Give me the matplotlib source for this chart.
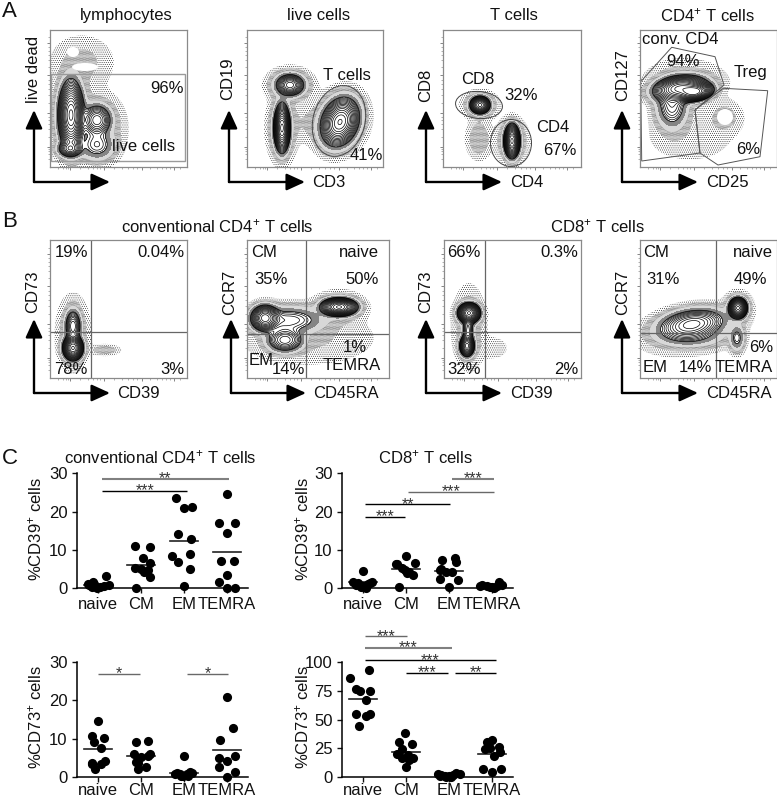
#! plot.py
# flow cytometry gating panels (A, B) and dot plots (C)

from matplotlib import pyplot as plt
from matplotlib.patches import Ellipse, Polygon, Rectangle, FancyArrowPatch
import numpy as np

plt.rcParams['font.family'] = ['Liberation Sans', 'DejaVu Sans']
plt.rcParams['mathtext.default'] = 'regular'
plt.rcParams['hatch.linewidth'] = 0.3
plt.rcParams['hatch.color'] = 'black'

W, H = 777, 797

# flow panels: populations are (x, y, sx, sy, angle, weight) in channel units
a1_pops = [(21, 52, 5.5, 15, 0, 1.0), (20, 18, 6, 4, 0, 0.25), (47, 47, 7, 7.5, 0, 0.3),
	(47, 22, 9, 8, 0, 0.1), (32, 105, 18, 15, 0, 0.007), (22, 50, 10, 22, 0, 0.03), (50, 40, 14, 18, 0, 0.012)]
a2_pops = [(43, 82, 6.5, 5, 0, 0.4), (35, 39, 3.5, 10.5, 0, 1.0), (93, 45, 8, 11, -20, 0.8),
	(62, 45, 12, 12, 0, 0.005), (43, 82, 11, 8, 0, 0.04), (35, 39, 7, 16, 0, 0.04), (93, 45, 13, 16, -20, 0.03)]
a3_pops = [(37, 62, 4.5, 4, 0, 0.7), (36, 28, 7, 11, 0, 0.012), (69, 26, 3.5, 7.5, 0, 1.0),
	(37, 62, 9, 7, 0, 0.025), (69, 26, 8, 11, 0, 0.025)]
a4_pops = [(40, 79, 12, 5.5, 8, 0.8), (55, 75, 8, 4, 8, 1.0), (32, 62, 8, 12, 0, 0.15),
	(85, 50, 10, 9, 0, 0.008), (50, 30, 28, 16, 0, 0.004), (45, 85, 24, 13, 0, 0.008)]
b1_pops = [(23, 30, 4.5, 5.5, 0, 1.0), (23, 52, 4, 8, 0, 0.25), (55, 28, 8, 3, 0, 0.012), (23, 45, 9, 20, 0, 0.012)]
b2_pops = [(18, 60, 6.5, 6, 0, 0.6), (38, 38, 9, 6, 0, 0.25), (92, 71, 8, 4, 0, 1.0),
	(42, 58, 18, 7, 0, 0.12), (60, 40, 40, 16, 0, 0.006), (92, 71, 13, 8, 0, 0.02)]
b3_pops = [(25, 65, 5, 4.5, 0, 1.0), (23, 32, 3.5, 5, 0, 0.6), (24, 48, 3, 7, 0, 0.15),
	(50, 30, 9, 7, 0, 0.004), (25, 50, 9, 22, 0, 0.012)]
b4_pops = [(52, 54, 16, 7, 8, 0.35), (98, 70, 4, 4.5, 0, 1.0), (97, 40, 4, 7, 0, 0.08),
	(50, 42, 18, 6, 0, 0.06), (50, 45, 32, 14, 8, 0.006), (98, 70, 7, 8, 0, 0.03)]

# white cores inside the panels (x, y, width, height)
a1_holes = [(23, 115, 12, 10), (35, 100, 26, 8), (30, 136, 24, 3)]
a4_holes = [(85, 50, 16, 16)]

# gates
a1_gate = (1, 6, 134, 87)
a2_gate = [(92, 46, 52, 72, -15)]
a3_gate = [(36, 62, 47, 27, -5), (68, 24, 41, 47, 0)]
a4_conv = [(0.7, 85.3), (31.7, 119.7), (75, 110.3), (84, 82), (55, 57), (60, 14), (1.7, 6)]
a4_treg = [(83.3, 78.7), (127.7, 76.3), (120, 10.3), (78, 2), (60, 14), (55, 57)]

# quadrant lines (x, y)
b1_quad = (41, 46)
b2_quad = (59, 44)
b3_quad = (41, 46)
b4_quad = (76, 45)

# log scale ticks on the flow frames
major_ticks = [20, 54, 92, 124]
minor_ticks = [8, 13, 16, 18, 30, 38, 43, 47, 50, 64, 72, 78, 83, 87, 100, 107, 112, 116, 120, 130]

# dot plots
categories = ['naive', 'CM', 'EM', 'TEMRA']

c1_x = [[0.18, 0.25, 0.05, -0.1, -0.22, -0.02, -0.14, 0.13, -0.24, -0.12],
	[-0.15, 0.22, 0.04, 0.22, -0.13, 0.0, 0.08, 0.16, 0.2, -0.12],
	[-0.19, 0.0, 0.19, -0.14, 0.16, -0.29, 0.15, -0.14, 0.15, 0.0],
	[0.0, -0.19, 0.19, 0.0, -0.15, 0.16, 0.0, -0.19, 0.0, 0.19]]
c1_y = [[3.2, 0.9, 0.35, 1.05, 0.8, 0.1, 0.35, 0.6, 1.0, 1.5],
	[10.9, 10.6, 7.8, 6.5, 5.2, 4.9, 4.1, 4.7, 2.9, 0.1],
	[23.5, 21.0, 21.3, 14.1, 12.7, 8.4, 8.9, 6.9, 5.0, 0.5],
	[24.5, 17.0, 17.0, 14.4, 7.0, 7.1, 3.5, 1.7, 0.1, 0.1]]
c1_mean = [0.8, 5.9, 12.4, 9.3]
c1_bars = [(0.09, 2.08, 25.4, '***', 'k'), (0.09, 3.05, 28.6, '**', 'gray')]

c2_x = [[0.0, -0.23, -0.12, 0.0, 0.12, 0.2, -0.05, 0.06, -0.16, 0.16],
	[0.0, -0.2, 0.2, -0.1, -0.02, 0.08, 0.02, 0.16, -0.16, -0.24],
	[-0.16, 0.13, 0.17, -0.18, -0.06, 0.07, -0.22, 0.2, 0.0, -0.2],
	[0.16, -0.23, -0.12, 0.0, 0.12, 0.23, -0.27, -0.05, 0.05, 0.18]]
c2_y = [[4.5, 1.5, 1.2, 0.5, 1.0, 1.6, 0.35, 0.1, 0.8, 1.4],
	[8.4, 6.2, 6.5, 5.3, 4.7, 4.3, 3.8, 3.4, 0.35, 6.3],
	[7.2, 7.8, 6.9, 5.1, 4.3, 4.1, 2.3, 2.0, 0.25, 4.7],
	[1.7, 0.7, 0.5, 0.25, 0.4, 0.8, 0.4, 0.2, 0.1, 1.0]]
c2_mean = [1.5, 5.0, 4.4, 0.5]
c2_bars = [(0.04, 0.98, 18.6, '***', 'k'), (0.04, 2.03, 21.9, '**', 'k'),
	(1.05, 3.05, 25.2, '***', 'dimgray'), (2.08, 3.05, 28.6, '***', 'gray')]

c3_x = [[0.0, -0.15, -0.09, 0.15, 0.08, -0.15, 0.16, 0.08, -0.08, -0.15],
	[-0.12, 0.17, -0.16, 0.0, 0.21, 0.16, -0.12, 0.12, -0.06, -0.08],
	[0.0, -0.17, 0.13, -0.1, -0.02, 0.06, -0.21, 0.19, -0.06, 0.09],
	[0.0, 0.15, -0.16, -0.19, 0.19, 0.0, -0.19, 0.19, 0.0]]
c3_y = [[14.5, 10.8, 9.2, 10.1, 7.6, 3.7, 4.2, 3.4, 1.9, 3.3],
	[9.1, 9.4, 5.9, 5.2, 5.9, 5.4, 3.9, 2.6, 1.9, 3.5],
	[5.3, 1.0, 1.3, 0.6, 0.3, 0.7, 0.7, 1.0, 0.2, 0.3],
	[21.0, 12.9, 9.7, 4.9, 5.4, 4.0, 2.5, 1.3, 0.0]]
c3_mean = [7.3, 5.3, 1.1, 7.0]
c3_bars = [(0.0, 0.97, 26.9, '*', 'dimgray'), (2.06, 3.03, 26.9, '*', 'dimgray')]

c4_x = [[0.14, -0.3, -0.16, -0.08, 0.16, 0.08, -0.16, 0.16, 0.08, -0.09],
	[-0.02, -0.16, 0.14, -0.09, -0.2, -0.09, 0.04, 0.17, 0.08, -0.01],
	[-0.26, -0.18, -0.1, 0.0, 0.09, 0.17, 0.25, -0.06, 0.05, -0.22],
	[0.0, -0.12, -0.17, -0.04, 0.16, 0.18, 0.05, -0.2, 0.2, 0.0, -0.1]]
c4_y = [[93, 86, 76.7, 75, 75.2, 66.8, 54.5, 54.8, 53, 44],
	[38, 30.6, 28.9, 24.5, 19.5, 16.6, 19, 16.6, 14.6, 8.5],
	[2, 1.5, 0.6, 0.6, 1.5, 3, 2, 0, 0, 0.9],
	[32, 30, 24, 25, 25.7, 21.9, 18, 6.7, 6.7, 4.4, 28]]
c4_mean = [68, 22, 1.5, 19.5]
c4_bars = [(0.04, 1.02, 122.7, '***', 'dimgray'), (0.04, 2.07, 112.5, '***', 'gray'),
	(0.04, 3.1, 101.7, '***', 'k'), (1.01, 1.97, 90.7, '***', 'k'), (2.14, 3.1, 90.7, '**', 'k')]

fig = plt.figure(figsize=(W / 100, H / 100), dpi=100)


def px_axes(left, top, right, bottom):
	# axes placed by its pixel box in the figure
	return fig.add_axes([left / W, 1 - bottom / H, (right - left) / W, (bottom - top) / H])


# overlay for the text and the arrows, in pixels
over = fig.add_axes([0, 0, 1, 1], zorder=10)
over.set_xlim(0, W)
over.set_ylim(H, 0)
over.axis('off')
over.patch.set_alpha(0)


def label(x, y, s, ha='center', size=12, rot=0):
	over.text(x, y, s, ha=ha, va='center', fontsize=size, rotation=rot, color='#111111')


def arrows(x0, y0, xtip, ytip):
	for end in [(xtip, y0), (x0, ytip)]:
		over.add_patch(FancyArrowPatch((x0, y0), end, arrowstyle='-|>,head_length=0.7,head_width=0.32',
			mutation_scale=16, lw=1.7, color='black', shrinkA=0, shrinkB=0))


def flow_panel(box, pops, holes=()):
	left, top, right, bottom = box
	w, h = right - left, bottom - top
	ax = px_axes(left, top, right, bottom)
	ax.set_xlim(0, w)
	ax.set_ylim(0, h)

	# density surface of the populations
	X, Y = np.meshgrid(np.linspace(0, w, 400), np.linspace(0, h, 400))
	Z = np.zeros_like(X)
	for cx, cy, sx, sy, ang, wgt in pops:
		t = np.radians(ang)
		u = (X - cx) * np.cos(t) + (Y - cy) * np.sin(t)
		v = -(X - cx) * np.sin(t) + (Y - cy) * np.cos(t)
		Z += wgt * np.exp(-0.5 * (u / sx) ** 2 - 0.5 * (v / sy) ** 2)

	# speckle halo outside the contours
	ax.contourf(X, Y, Z, levels=[0.0015, 0.005, 0.015, 0.035, 0.06], colors=['white', '#f5f5f5', '#d8d8d8', '#858585'])
	ax.contourf(X, Y, Z, levels=[0.0015, 0.005, 0.015], colors='none', hatches=['........', '..............'])
	ax.contour(X, Y, Z, levels=np.geomspace(0.06, 0.97, 16), colors='black', linewidths=0.5)

	for hx, hy, hw, hh in holes:
		ax.add_patch(Ellipse((hx, hy), hw, hh, fc='white', ec='none'))

	# frame and log ticks
	for side in ax.spines.values():
		side.set_color('#8a8a8a')
		side.set_linewidth(0.9)
	ax.set_xticks(major_ticks)
	ax.set_yticks(major_ticks)
	ax.set_xticks(minor_ticks, minor=True)
	ax.set_yticks(minor_ticks, minor=True)
	ax.tick_params(which='major', length=2.5, width=0.5, color='#555555', labelleft=False, labelbottom=False)
	ax.tick_params(which='minor', length=1.2, width=0.4, color='#777777')
	return ax


def quadrants(ax, quad):
	ax.axvline(quad[0], color='#666666', lw=0.9)
	ax.axhline(quad[1], color='#666666', lw=0.9)


def dot_panel(box, xs, ys, means, bars, ymax, yticks, ylab, ylab_x, pad=3):
	left, top, right, bottom = box
	ax = px_axes(left, top, right, bottom)
	for i in range(len(categories)):
		ax.plot(i + np.array(xs[i]), ys[i], 'o', color='black', ms=6.6, mew=0, clip_on=False, zorder=3)
		ax.plot([i - 0.33, i + 0.33], [means[i], means[i]], color='#222222', lw=1.2, zorder=2)
	for x0, x1, y, stars, col in bars:
		ax.plot([x0, x1], [y, y], color=col, lw=1.5 if col == 'gray' else 1.0, clip_on=False, solid_capstyle='butt')
		ax.text((x0 + x1) / 2, y, stars, ha='center', va='center', fontsize=11.5, color='#333333', clip_on=False)
	ax.set_xlim(-0.49, 3.49)
	ax.set_ylim(0, ymax)
	ax.set_xticks(range(len(categories)))
	ax.set_xticklabels(categories)
	ax.set_yticks(yticks)
	ax.spines['top'].set_visible(False)
	ax.spines['right'].set_visible(False)
	ax.spines['left'].set_linewidth(1.1)
	ax.spines['bottom'].set_linewidth(1.1)
	ax.tick_params(length=3.8, width=1.0, labelsize=12, colors='#111111')
	ax.tick_params(axis='x', pad=pad)
	ax.tick_params(axis='y', pad=3)
	label(ylab_x, (top + bottom) / 2 - 2, ylab, size=12, rot=90)
	return ax


# panel A
ax = flow_panel((50, 30, 187, 167), a1_pops, a1_holes)
x0, y0, gw, gh = a1_gate
ax.add_patch(Rectangle((x0, y0), gw, gh, fc='none', ec='#9a9a9a', lw=1.0))
label(126, 15, 'lymphocytes')
label(184, 88, '96%', ha='right')
label(144, 146, 'live cells')
label(33, 69, 'live dead', rot=90)
arrows(34, 182, 110, 110)

ax = flow_panel((247, 30, 383, 167), a2_pops)
for cx, cy, ew, eh, ang in a2_gate:
	ax.add_patch(Ellipse((cx, cy), ew, eh, angle=ang, fc='none', ec='#444444', lw=0.7))
label(319, 15, 'live cells')
label(347, 75, 'T cells')
label(383, 155, '41%', ha='right')
label(312, 182, 'CD3', ha='left')
label(228, 79, 'CD19', rot=90)
arrows(229, 182, 305, 110)

ax = flow_panel((443, 30, 581, 167), a3_pops)
for cx, cy, ew, eh, ang in a3_gate:
	ax.add_patch(Ellipse((cx, cy), ew, eh, angle=ang, fc='none', ec='#444444', lw=0.7))
label(514, 15, 'T cells')
label(478, 79, 'CD8')
label(521, 95, '32%')
label(553, 127, 'CD4')
label(560, 150, '67%')
label(510, 182, 'CD4', ha='left')
label(426, 85, 'CD8', rot=90)
arrows(426, 182, 502, 110)

ax = flow_panel((640, 30, 777, 167), a4_pops, a4_holes)
ax.add_patch(Polygon(a4_conv, fc='none', ec='#555555', lw=0.7))
ax.add_patch(Polygon(a4_treg, fc='none', ec='#555555', lw=0.7))
label(707, 15, 'CD4$^{+}$ T cells')
label(642, 39, 'conv. CD4', ha='left')
label(683, 61, '94%')
label(750, 72, 'Treg')
label(748, 149, '6%')
label(706, 182, 'CD25', ha='left')
label(623, 75, 'CD127', rot=90)
arrows(622, 182, 698, 110)

# panel B
label(217, 226, 'conventional CD4$^{+}$ T cells')
label(597, 226, 'CD8$^{+}$ T cells')

ax = flow_panel((50, 240, 187, 378), b1_pops)
quadrants(ax, b1_quad)
label(71, 252, '19%')
label(184, 252, '0.04%', ha='right')
label(71, 369, '78%')
label(184, 369, '3%', ha='right')
label(117, 393, 'CD39', ha='left')
label(33, 292, 'CD73', rot=90)
arrows(34, 393, 110, 319)

ax = flow_panel((247, 240, 389, 378), b2_pops)
quadrants(ax, b2_quad)
label(251, 252, 'CM', ha='left')
label(379, 252, 'naive', ha='right')
label(271, 279, '35%')
label(379, 279, '50%', ha='right')
label(355, 347, '1%')
label(381, 365, 'TEMRA', ha='right')
label(249, 360, 'EM', ha='left')
label(288, 369, '14%')
label(313, 393, 'CD45RA', ha='left')
label(230, 292, 'CCR7', rot=90)
arrows(231, 393, 306, 319)

ax = flow_panel((444, 240, 581, 378), b3_pops)
quadrants(ax, b3_quad)
label(464, 252, '66%')
label(578, 252, '0.3%', ha='right')
label(464, 369, '32%')
label(578, 369, '2%', ha='right')
label(510, 393, 'CD39', ha='left')
label(426, 292, 'CD73', rot=90)
arrows(426, 393, 502, 319)

ax = flow_panel((640, 240, 777, 378), b4_pops)
quadrants(ax, b4_quad)
label(643, 252, 'CM', ha='left')
label(773, 252, 'naive', ha='right')
label(663, 279, '31%')
label(767, 279, '49%', ha='right')
label(773, 347, '6%', ha='right')
label(643, 367, 'EM', ha='left')
label(695, 367, '14%')
label(773, 367, 'TEMRA', ha='right')
label(706, 393, 'CD45RA', ha='left')
label(623, 292, 'CCR7', rot=90)
arrows(622, 393, 698, 319)

# panel C
label(160, 457, 'conventional CD4$^{+}$ T cells')
label(425, 457, 'CD8$^{+}$ T cells')
dot_panel((77, 473.3, 248, 588), c1_x, c1_y, c1_mean, c1_bars, 30, [0, 10, 20, 30], '%CD39$^{+}$ cells', 35)
dot_panel((342, 473.3, 513, 588), c2_x, c2_y, c2_mean, c2_bars, 30, [0, 10, 20, 30], '%CD39$^{+}$ cells', 302)
dot_panel((77, 662.3, 248, 776.7), c3_x, c3_y, c3_mean, c3_bars, 30, [0, 10, 20, 30], '%CD73$^{+}$ cells', 35, pad=1)
dot_panel((342, 662.3, 513, 776.7), c4_x, c4_y, c4_mean, c4_bars, 100, [0, 25, 50, 75, 100], '%CD73$^{+}$ cells', 302, pad=1)

# panel letters
label(2, 11, 'A', ha='left', size=16)
label(2, 221, 'B', ha='left', size=16)
label(2, 458, 'C', ha='left', size=16)

plt.savefig('out.png', dpi=100)
